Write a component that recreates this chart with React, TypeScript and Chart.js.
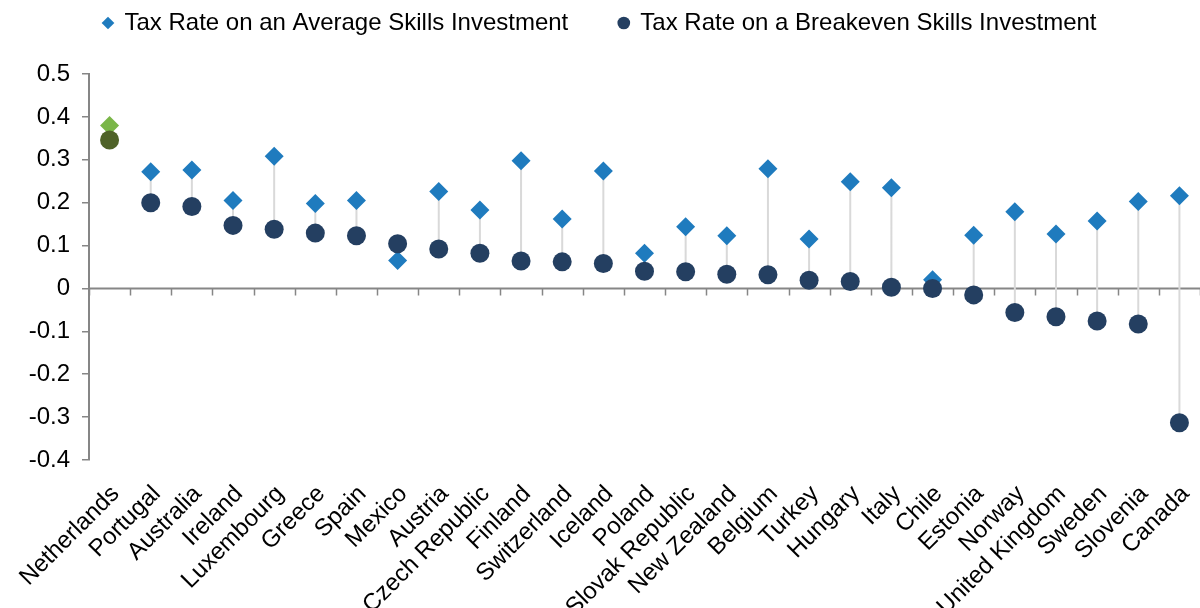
import React, { useEffect, useRef } from 'react';
import { Chart, registerables } from 'chart.js';

Chart.register(...registerables);

const countries = [
  'Netherlands', 'Portugal', 'Australia', 'Ireland', 'Luxembourg', 'Greece', 'Spain', 'Mexico', 'Austria',
  'Czech Republic', 'Finland', 'Switzerland', 'Iceland', 'Poland', 'Slovak Republic', 'New Zealand', 'Belgium',
  'Turkey', 'Hungary', 'Italy', 'Chile', 'Estonia', 'Norway', 'United Kingdom', 'Sweden', 'Slovenia', 'Canada',
];

const averageRate = [
  0.380, 0.272, 0.276, 0.205, 0.308, 0.198, 0.205, 0.065, 0.226,
  0.183, 0.298, 0.162, 0.274, 0.082, 0.144, 0.123, 0.279,
  0.115, 0.249, 0.235, 0.020, 0.124, 0.179, 0.127, 0.157, 0.203, 0.216,
];

const breakevenRate = [
  0.346, 0.200, 0.191, 0.147, 0.138, 0.129, 0.123, 0.104, 0.092,
  0.082, 0.064, 0.062, 0.058, 0.040, 0.039, 0.033, 0.032,
  0.019, 0.016, 0.003, 0.000, -0.015, -0.056, -0.066, -0.076, -0.083, -0.313,
];

const seriesNames = ['Tax Rate on an Average Skills Investment', 'Tax Rate on a Breakeven Skills Investment'];
const highlightCountry = 'Netherlands';

const AVG_COLOR = '#1F7BBE';
const AVG_HIGHLIGHT = '#7AB648';
const BE_COLOR = '#243F61';
const BE_HIGHLIGHT = '#4F6228';
const AXIS_COLOR = '#868686';
const FONT = { family: '"Liberation Sans", Arial, sans-serif', size: 24 };

const connectorPlugin = {
  id: 'connectors',
  beforeDatasetsDraw(chart: any) {
    const ctx = chart.ctx;
    const a = chart.getDatasetMeta(0).data;
    const b = chart.getDatasetMeta(1).data;
    const xs = chart.scales.x;
    const ys = chart.scales.y;
    const area = chart.chartArea;
    ctx.save();
    // zero axis line with category tick marks
    const y0 = ys.getPixelForValue(0);
    ctx.strokeStyle = AXIS_COLOR;
    ctx.lineWidth = 2;
    ctx.beginPath();
    ctx.moveTo(area.left, y0);
    ctx.lineTo(area.right, y0);
    ctx.stroke();
    const step = xs.getPixelForValue(1) - xs.getPixelForValue(0);
    ctx.lineWidth = 1.5;
    ctx.beginPath();
    for (let i = 0; i <= countries.length; i++) {
      const x = Math.round(xs.getPixelForValue(0) - step / 2 + i * step) + 0.5;
      ctx.moveTo(x, y0);
      ctx.lineTo(x, y0 + 7);
    }
    ctx.stroke();
    // connectors
    ctx.strokeStyle = '#D9D9D9';
    ctx.lineWidth = 2;
    ctx.beginPath();
    for (let i = 0; i < a.length; i++) {
      ctx.moveTo(a[i].x, a[i].y);
      ctx.lineTo(b[i].x, b[i].y);
    }
    ctx.stroke();
    ctx.restore();
  },
};

export default function App() {
  const ref = useRef<HTMLCanvasElement>(null);

  useEffect(() => {
    if (!ref.current) return;
    const legendColors = [AVG_COLOR, BE_COLOR];
    const chart = new Chart(ref.current, {
      type: 'line',
      data: {
        labels: countries,
        datasets: [
          {
            label: seriesNames[0],
            data: averageRate,
            showLine: false,
            pointStyle: 'rectRot',
            pointRadius: 9.5,
            pointBorderWidth: 0,
            pointBackgroundColor: countries.map((c) => (c === highlightCountry ? AVG_HIGHLIGHT : AVG_COLOR)),
            pointBorderColor: countries.map((c) => (c === highlightCountry ? AVG_HIGHLIGHT : AVG_COLOR)),
            backgroundColor: AVG_COLOR,
            borderColor: AVG_COLOR,
            order: 1,
            clip: false,
          },
          {
            label: seriesNames[1],
            data: breakevenRate,
            showLine: false,
            pointStyle: 'circle',
            pointRadius: 9.5,
            pointBorderWidth: 0,
            pointBackgroundColor: countries.map((c) => (c === highlightCountry ? BE_HIGHLIGHT : BE_COLOR)),
            pointBorderColor: countries.map((c) => (c === highlightCountry ? BE_HIGHLIGHT : BE_COLOR)),
            backgroundColor: BE_COLOR,
            borderColor: BE_COLOR,
            order: 0,
            clip: false,
          },
        ],
      },
      options: {
        responsive: false,
        animation: false,
        layout: { autoPadding: false, padding: { top: -40, left: 0, right: 0, bottom: 0 } },
        plugins: {
          tooltip: { enabled: false },
          title: {
            display: true,
            text: '',
            weight: 500,
            position: 'top',
            font: { size: 24, lineHeight: 1 },
            padding: { top: 5, bottom: 0 },
          } as any,
          legend: {
            display: true,
            position: 'top',
            labels: {
              usePointStyle: true,
              boxHeight: 9,
              boxWidth: 9,
              padding: 51,
              color: '#000',
              font: FONT,
              sort: (a: any, b: any) => a.datasetIndex - b.datasetIndex,
              generateLabels: (ch: any) => {
                const items = (Chart as any).defaults.plugins.legend.labels.generateLabels(ch);
                items.forEach((it: any) => {
                  it.fillStyle = legendColors[it.datasetIndex];
                  it.strokeStyle = legendColors[it.datasetIndex];
                  it.lineWidth = 0;
                });
                return items;
              },
            },
          },
        },
        scales: {
          x: {
            type: 'category',
            offset: true,
            grid: { display: false },
            border: { display: false },
            ticks: {
              autoSkip: false,
              maxRotation: 45,
              minRotation: 45,
              color: '#000',
              font: FONT,
              padding: 12,
              labelOffset: 6,
            },
            afterFit: (s: any) => {
              s.height = 148;
              s.paddingRight = 0;
              s.paddingLeft = 0;
            },
          },
          y: {
            min: -0.4,
            max: 0.5,
            ticks: {
              stepSize: 0.1,
              color: '#000',
              font: FONT,
              padding: 12,
              callback: (v: any) => String(Number(Number(v).toFixed(1))),
            },
            grid: {
              drawOnChartArea: false,
              drawTicks: true,
              tickLength: 7,
              color: AXIS_COLOR,
              lineWidth: 1.5,
            },
            border: { display: true, color: AXIS_COLOR, width: 2 },
            afterFit: (s: any) => {
              s.width = 89;
            },
          },
        },
      },
      plugins: [connectorPlugin],
    });
    return () => chart.destroy();
  }, []);

  return (
    <div style={{ position: 'fixed', left: 0, top: 0, width: 1200, height: 608, background: '#fff' }}>
      <canvas ref={ref} width={1200} height={608} style={{ display: 'block' }} />
    </div>
  );
}
